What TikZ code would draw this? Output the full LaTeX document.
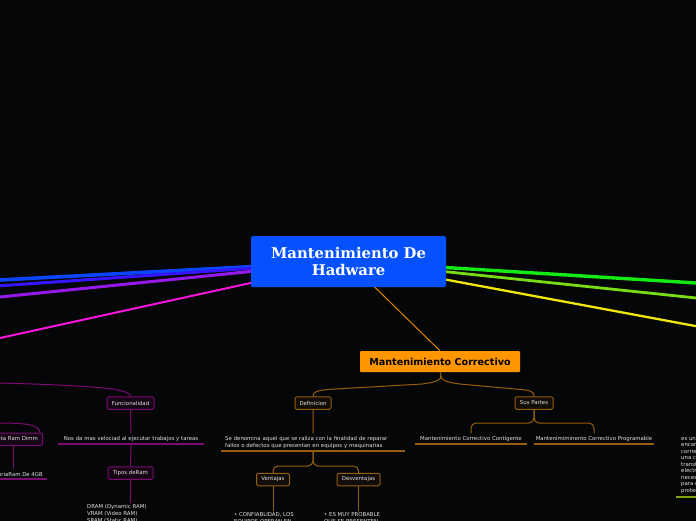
\documentclass[tikz,border=0pt]{standalone}
\usepackage{fontspec}
\newfontfamily\dv{DejaVu Sans}
\newfontfamily\dvs{DejaVu Serif}
\usetikzlibrary{calc}
\definecolor{bgc}{RGB}{5,6,8}
\definecolor{cblue}{RGB}{5,80,255}
\definecolor{lblue}{RGB}{10,70,255}
\definecolor{lindigo}{RGB}{55,20,255}
\definecolor{lpurple}{RGB}{150,25,235}
\definecolor{lmag}{RGB}{250,20,220}
\definecolor{lgreen}{RGB}{20,235,20}
\definecolor{lygreen}{RGB}{120,220,20}
\definecolor{lyellow}{RGB}{240,230,10}
\definecolor{ocol}{RGB}{255,150,0}
\definecolor{ocon}{RGB}{225,130,0}
\definecolor{obord}{RGB}{150,95,15}
\definecolor{ofill}{RGB}{18,13,6}
\definecolor{pbord}{RGB}{125,10,115}
\definecolor{pfill}{RGB}{22,5,20}
\definecolor{txt}{RGB}{225,225,225}
\definecolor{ygl}{RGB}{130,165,20}
\tikzset{
  ctrbox/.style={fill=cblue, text=white, font=\dvs\bfseries\fontsize{14.8}{17.5}\selectfont, align=center, minimum width=195, minimum height=51, inner sep=0, rounded corners=1.5},
  obox/.style={fill=ocol, text=black, font=\dv\bfseries\fontsize{9.6}{11}\selectfont, minimum width=160, minimum height=21, inner sep=0, rounded corners=1},
  subbox/.style={draw=obord, fill=ofill, line width=1, rounded corners=1.5, text=txt, font=\dv\fontsize{5.4}{6.5}\selectfont, minimum height=12.5, inner sep=0},
  psubbox/.style={subbox, draw=pbord, fill=pfill},
  smalltxt/.style={text=txt, font=\dv\fontsize{5.4}{7}\selectfont, inner xsep=4, inner ysep=2.5},
  ocn/.style={draw=obord, line width=1},
  pcn/.style={draw=pbord, line width=1},
  ocnr/.style={ocn, rounded corners=5},
  pcnr/.style={pcn, rounded corners=5},
  uline/.style={line width=1.3},
}
\begin{document}
\begin{tikzpicture}[x=1pt,y=-1pt]
\useasboundingbox (0,0) rectangle (696,520);
\clip (0,0) rectangle (696,520);
\fill[bgc] (-5,-5) rectangle (701,525);

% hub and main branches
\coordinate (hub) at (348.5,261.5);
\node[obox] (corr) at (440,361.5) {Mantenimiento Correctivo};
\coordinate (eb1) at (-10,280.5);
\coordinate (eb2) at (-10,286.5);
\coordinate (eb3) at (-10,298);
\coordinate (eb4) at (-10,340.2);
\coordinate (eg1) at (706,283.6);
\coordinate (eg2) at (706,299);
\coordinate (eg3) at (706,328);
\draw[lblue, line width=3.6] (hub) -- (eb1);
\draw[lindigo, line width=3] (hub) -- (eb2);
\draw[lpurple, line width=3] (hub) -- (eb3);
\draw[lmag, line width=2] (hub) -- (eb4);
\draw[lgreen, line width=3.4] (hub) -- (eg1);
\draw[lygreen, line width=2.8] (hub) -- (eg2);
\draw[lyellow, line width=2.3] (hub) -- (eg3);
\draw[ocon, line width=1] (hub) -- (corr.north);
\node[ctrbox] (ctr) at (hub) {Mantenimiento De\\Hadware};

% orange branch
\node[subbox, minimum width=36] (def) at (313,403) {Definicion};
\node[subbox, minimum width=38] (sus) at (534,403) {Sus Partes};
\coordinate (tip) at (441,376);
\draw[ocn] (corr.south) -- (tip) .. controls (441,380) and (437,382) .. (422,384) -- (335,389) .. controls (316,390) and (313,392) .. (def.north);
\draw[ocn] (tip) .. controls (441,380) and (445,382) .. (460,384) -- (515,389) .. controls (532,390) and (534,392) .. (sus.north);

\node[smalltxt, text width=176, align=left, anchor=south west] (deftxt) at (221,451) {Se denomina aquel que se raliza con la finalidad de reparar\\fallos o defectos que presentan en equipos y maquinarias};
\draw[obord, uline] (deftxt.south west) -- (deftxt.south east);
\draw[ocn] (def.south) -- (deftxt.north);

\node[subbox, minimum width=33] (vent) at (273,479.5) {Ventajas};
\node[subbox, minimum width=43] (desv) at (358.5,479.5) {Desventajas};
\draw[ocnr] (deftxt.south) -- (313,466) -- (vent.north |- 0,466) -- (vent.north);
\draw[ocnr] (deftxt.south) -- (313,466) -- (desv.north |- 0,466) -- (desv.north);

\node[smalltxt, inner sep=1, align=left, anchor=north west] (ventxt) at (233,511) {• CONFIABLIDAD, LOS\\EQUIPOS OPERAN EN};
\node[smalltxt, inner sep=1, align=left, anchor=north west] (desvtxt) at (323,511) {• ES MUY PROBABLE\\QUE SE PRESENTEN};
\draw[ocn] (vent.south) -- (vent.south |- ventxt.north);
\draw[ocn] (desv.south) -- (desv.south |- desvtxt.north);

\node[smalltxt, inner xsep=0, minimum width=112, anchor=south] (cont) at (471,444) {Mantenimiento Correctivo Contigente};
\draw[obord, uline] (cont.south west) -- (cont.south east);
\node[smalltxt, inner xsep=0, minimum width=120, anchor=south] (prog) at (594,444) {Mantenimiminento Correctivo Programable};
\draw[obord, uline] (prog.south west) -- (prog.south east);
\draw[ocnr] (sus.south) -- (534,423) -- (cont.north |- 0,423) -- (cont.north);
\draw[ocnr] (sus.south) -- (534,423) -- (prog.north |- 0,423) -- (prog.north);

% right text (yellow-green branch)
\node[text=txt, font=\dv\fontsize{5.4}{6.5}\selectfont, inner sep=0, align=left, anchor=north west] (ups) at (681,436) {es un dispositivo\\encargado de\\corriente eléctrica\\una computadora\\transformando\\eléctrica\\necesaria\\para el equipo\\protección};
\draw[ygl, uline] (676,497) -- (720,497);

% purple branch
\node[psubbox, minimum width=47] (func) at (130.5,403) {Funcionalidad};
\coordinate (pl) at (-5,383);
\draw[pcn] (pl) .. controls (50,384) and (105,387) .. (118,390) .. controls (127,392) and (130.5,394) .. (func.north);
\node[smalltxt, text width=138, align=center, anchor=south] (nos) at (131,444) {Nos da mas velociad al ejecutar trabajos y tareas};
\draw[pbord, uline] (nos.south west) -- (nos.south east);
\draw[pcn] (func.south) -- (nos.north);
\node[psubbox, minimum width=45] (tipos) at (130.5,473) {Tipos deRam};
\draw[pcn] (nos.south) -- (tipos.north);
\node[smalltxt, inner sep=1, align=left, anchor=north west] (dram) at (86,503) {DRAM (Dynamic RAM)\\VRAM (Video RAM)\\SRAM (Static RAM)};
\draw[pcn] (tipos.south) -- (tipos.south |- dram.north);

\node[psubbox, inner xsep=4.5, anchor=north east] (tarj) at (43,432.5) {Tarjeta Ram Dimm};
\coordinate (pl2) at (-5,423);
\draw[pcn] (pl2) .. controls (25,423) and (39,424) .. ($(tarj.north east)+(-3,0)$);
\node[smalltxt, align=right, anchor=south east] (mem) at (47,479) {MemoriaRam De 4GB};
\draw[pbord, uline] (mem.south west) -- (mem.south east);
\draw[pcn] ($(tarj.south east)+(-30,0)$) -- ($(mem.north east)+(-34,0)$);
\end{tikzpicture}
\end{document}
